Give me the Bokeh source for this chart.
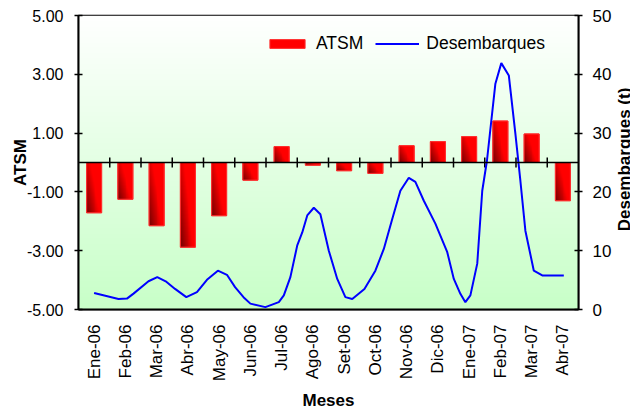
import numpy as np
from bokeh.plotting import figure
from bokeh.layouts import row
from bokeh.models import (Range1d, LinearAxis, FixedTicker, NumeralTickFormatter,
                          Legend, LegendItem, Span, Label)
from bokeh.embed import file_html
from bokeh.resources import INLINE

# ---------------- data ----------------
meses = ["Ene-06", "Feb-06", "Mar-06", "Abr-06", "May-06", "Jun-06", "Jul-06", "Ago-06",
         "Set-06", "Oct-06", "Nov-06", "Dic-06", "Ene-07", "Feb-07", "Mar-07", "Abr-07"]
atsm = [-1.71, -1.25, -2.15, -2.88, -1.81, -0.60, 0.54, -0.09,
        -0.28, -0.37, 0.57, 0.71, 0.88, 1.41, 0.97, -1.30]
# desembarques: position in months counted from Ene-06, and tonnes
desemb_pos = [0.0, 0.78, 1.05, 1.26, 1.74, 2.02, 2.29, 2.59, 2.95, 3.29,
              3.61, 3.96, 4.25, 4.51, 4.78, 5.0, 5.48, 5.91, 6.07, 6.28,
              6.5, 6.66, 6.82, 7.03, 7.24, 7.51, 7.78, 8.04, 8.26, 8.65,
              9.0, 9.27, 9.54, 9.8, 10.07, 10.28, 10.55, 10.92, 11.3, 11.51,
              11.72, 11.88, 12.04, 12.26, 12.42, 12.57, 12.84, 13.03, 13.27, 13.48,
              13.64, 13.8, 14.07, 14.34, 15.03]
desemb_t = [2.8, 1.8, 1.85, 2.7, 4.8, 5.5, 4.8, 3.5, 2.1, 2.95,
            5.05, 6.6, 5.9, 3.8, 2.1, 1.0, 0.4, 1.25, 2.4, 5.5,
            10.9, 13.1, 16.0, 17.3, 16.2, 10.0, 5.2, 2.1, 1.8, 3.5,
            6.6, 10.3, 15.4, 20.2, 22.4, 21.7, 18.5, 14.6, 9.75, 5.2,
            2.67, 1.25, 2.4, 7.8, 20.2, 25.3, 38.4, 41.9, 39.8, 29.9,
            21.9, 13.4, 6.6, 5.8, 5.8]
atsm_ticks = [-5, -3, -1, 1, 3, 5]
desemb_ticks = [0, 10, 20, 30, 40, 50]

FONT = "Liberation Sans"
n = len(meses)
centers = [i + 0.5 for i in range(n)]
bounds = list(range(1, n))

p = figure(frame_width=500, frame_height=294, x_range=Range1d(0, n), y_range=Range1d(-5, 5),
           output_backend="svg", toolbar_location=None,
           min_border_left=78, min_border_right=33, min_border_top=15, min_border_bottom=100)
p.xgrid.visible = False
p.ygrid.visible = False
p.outline_line_color = "black"
p.outline_line_width = 1.5
p.background_fill_color = "white"
p.border_fill_color = "white"

# background vertical gradient (white top -> light green bottom)
ng = 200
frac = np.linspace(0, 1, ng)[:, None]  # row 0 = bottom
bot = np.array([200, 255, 200]); top = np.array([255, 255, 255])
cols = bot + (top - bot) * frac
bg = np.empty((ng, 1), dtype=np.uint32)
bgv = bg.view(dtype=np.uint8).reshape((ng, 1, 4))
bgv[:, 0, :3] = cols.astype(np.uint8)
bgv[:, 0, 3] = 255
p.image_rgba(image=[bg], x=p.x_range.start, y=p.y_range.start,
             dw=p.x_range.end - p.x_range.start, dh=p.y_range.end - p.y_range.start,
             level="image")

# bars
bw = 0.48
bars = p.vbar(x=centers, top=atsm, bottom=0, width=bw,
              fill_color="#FF0000", line_color="#FF3030", line_width=1)
H, W = 64, 16
xf = (np.arange(W) + 0.5) / W
yf = (np.arange(H) + 0.5) / H
t = np.clip(xf[None, :] * 1.15 + yf[:, None] * 0.75, 0, 1)
dark = np.array([115, 0, 0]); bright = np.array([255, 0, 0])
grad = np.empty((H, W), dtype=np.uint32)
gv = grad.view(dtype=np.uint8).reshape((H, W, 4))
for k in range(3):
    gv[:, :, k] = (dark[k] + (bright[k] - dark[k]) * t).astype(np.uint8)
gv[:, :, 3] = 255
p.image_rgba(image=[grad] * n, x=[c - bw / 2 for c in centers],
             y=[min(0, v) for v in atsm], dw=[bw] * n, dh=[abs(v) for v in atsm])
p.vbar(x=centers, top=atsm, bottom=0, width=bw, fill_color=None,
       line_color="#FF3030", line_width=1)

# horizontal axis line crossing at zero, with tick marks between categories
p.add_layout(Span(location=0, dimension="width", line_color="black", line_width=1.5))
p.scatter(x=bounds, y=[0] * len(bounds), marker="dash", size=10, angle=np.pi / 2,
          line_color="black", line_width=1.5)

# line on right axis
p.extra_y_ranges = {"desemb": Range1d(0, 50)}
ln = p.line(x=[v + 0.5 for v in desemb_pos], y=desemb_t, y_range_name="desemb",
            line_color="#0000FF", line_width=2)

# left axis
ya = p.yaxis[0]
ya.ticker = FixedTicker(ticks=atsm_ticks)
ya.formatter = NumeralTickFormatter(format="0.00")
ya.axis_label = "ATSM"
ya.minor_tick_line_color = None
ya.major_tick_in = 4
ya.major_tick_out = 4
ya.major_label_standoff = 11
ya.axis_label_standoff = -6

# bottom axis
xa = p.xaxis[0]
xa.ticker = FixedTicker(ticks=centers)
xa.major_label_overrides = {c: m for c, m in zip(centers, meses)}
xa.major_label_orientation = np.pi / 2
xa.major_tick_line_color = None
xa.minor_tick_line_color = None
xa.major_label_standoff = 9
xa.axis_label = "Meses"
xa.axis_label_standoff = 7

# right axis
ra = LinearAxis(y_range_name="desemb", ticker=FixedTicker(ticks=desemb_ticks))
ra.minor_tick_line_color = None
ra.major_tick_in = 4
ra.major_tick_out = 4
ra.major_label_standoff = 10
p.add_layout(ra, "right")

for ax in (ya, xa, ra):
    ax.axis_line_color = "black"
    ax.axis_line_width = 2
    ax.major_tick_line_width = 1.5
    ax.major_label_text_font = FONT
    ax.major_label_text_font_size = "16px"
    ax.major_label_text_color = "black"
    ax.axis_label_text_font = FONT
    ax.axis_label_text_font_size = "17px"
    ax.axis_label_text_font_style = "bold"
    ax.axis_label_text_color = "black"
xa.major_label_text_font_size = "17px"
ra.major_label_text_font_size = "17px"

legend = Legend(items=[LegendItem(label="ATSM", renderers=[bars]),
                       LegendItem(label="Desembarques", renderers=[ln])],
                orientation="horizontal", location=(187, 255),
                glyph_width=44, glyph_height=11, label_standoff=7, spacing=12,
                padding=0, margin=0, border_line_color=None, background_fill_alpha=0,
                label_text_font=FONT, label_text_font_size="17.5px", label_text_color="black")
p.add_layout(legend, "center")

# right-hand axis title, read from bottom to top, in a narrow strip beside the chart
q = figure(frame_width=19, frame_height=294, x_range=Range1d(0, 1), y_range=Range1d(-5, 5),
           output_backend="svg", toolbar_location=None, x_axis_type=None, y_axis_type=None,
           min_border_left=0, min_border_right=0, min_border_top=15, min_border_bottom=100)
q.xgrid.visible = False
q.ygrid.visible = False
q.outline_line_color = None
q.background_fill_color = "white"
q.border_fill_color = "white"
q.add_layout(Label(x=0.5, y=0, y_offset=3, text="Desembarques (t)", angle=np.pi / 2,
                   text_align="center", text_baseline="middle", text_line_height=1.0,
                   text_font=FONT, text_font_size="17px", text_font_style="bold",
                   text_color="black"))

layout = row(p, q, spacing=0)
open("out.html", "w").write(file_html(layout, INLINE))
